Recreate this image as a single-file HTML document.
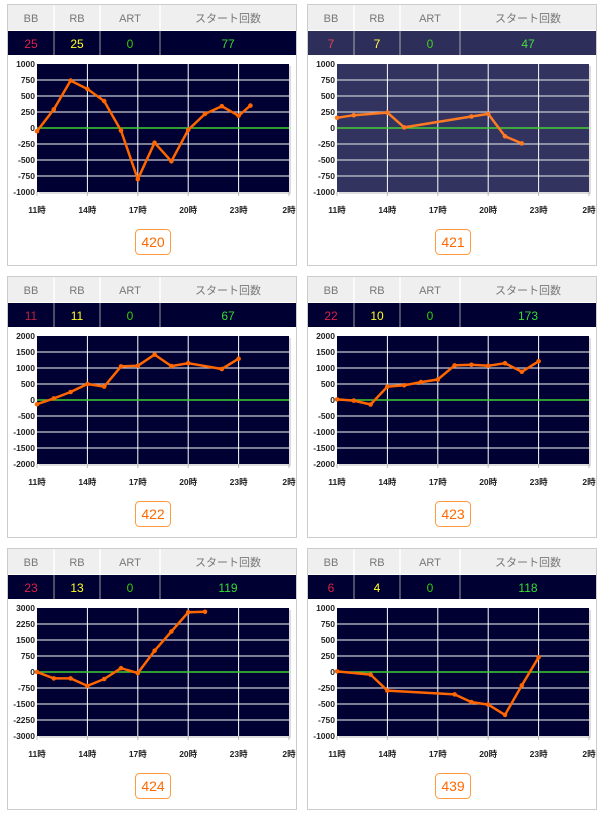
<!DOCTYPE html>
<html><head><meta charset="utf-8">
<style>
html,body{margin:0;padding:0;background:#fff;}
svg{display:block;font-family:"Liberation Sans","Noto Sans CJK JP",sans-serif;}
.h{font-size:11px;fill:#777;text-anchor:middle}
.v{font-size:12px;text-anchor:middle}
.yl{font-size:8.5px;fill:#222;text-anchor:end;font-weight:bold}
.xl{font-size:8.5px;fill:#222;text-anchor:middle;font-weight:bold}
.hg{stroke:#c8c8d0;stroke-width:1.2}
.vg{stroke:#fff;stroke-width:1}
.ln{fill:none;stroke:#ff6600;stroke-width:2.5;stroke-linejoin:round}
.bt{font-size:14px;fill:#ff6a00;text-anchor:middle}
</style></head><body>
<svg width="600" height="814" viewBox="0 0 600 814">
<defs>
<g id="frame">
<rect x="0.5" y="0.5" width="289" height="261" fill="#fff" stroke="#ccc"/>
<rect x="1" y="1" width="288" height="25" fill="#efefef"/>
<g stroke="#fff" stroke-width="1.5"><line x1="47" y1="1" x2="47" y2="26"/><line x1="93" y1="1" x2="93" y2="26"/><line x1="153" y1="1" x2="153" y2="26"/></g>
<text class="h" x="24" y="18">BB</text><text class="h" x="70" y="18">RB</text><text class="h" x="123" y="18">ART</text><text class="h" x="221" y="18">スタート回数</text>
<rect x="32" y="62" width="252" height="128" fill="#ddd"/>
<g class="xl"><text x="30" y="209">11時</text><text x="80.4" y="209">14時</text><text x="130.8" y="209">17時</text><text x="181.2" y="209">20時</text><text x="231.6" y="209">23時</text><text x="282" y="209">2時</text></g>
<g stroke="#bbb"><line x1="30" y1="188" x2="30" y2="192"/><line x1="80.4" y1="188" x2="80.4" y2="192"/><line x1="130.8" y1="188" x2="130.8" y2="192"/><line x1="181.2" y1="188" x2="181.2" y2="192"/><line x1="231.6" y1="188" x2="231.6" y2="192"/><line x1="282" y1="188" x2="282" y2="192"/></g>
<rect x="128.5" y="225.5" width="35" height="25" rx="4" fill="#fff" stroke="#ff9a40"/>
</g>
<g id="grid">
<g class="hg"><line x1="30" y1="76" x2="282" y2="76"/><line x1="30" y1="92" x2="282" y2="92"/><line x1="30" y1="108" x2="282" y2="108"/><line x1="30" y1="140" x2="282" y2="140"/><line x1="30" y1="156" x2="282" y2="156"/><line x1="30" y1="172" x2="282" y2="172"/></g>
<g class="vg"><line x1="80.4" y1="60" x2="80.4" y2="188"/><line x1="130.8" y1="60" x2="130.8" y2="188"/><line x1="181.2" y1="60" x2="181.2" y2="188"/><line x1="231.6" y1="60" x2="231.6" y2="188"/></g>
<line x1="30" y1="124" x2="282" y2="124" stroke="#44cc33" stroke-width="1.5"/>
</g>
<g id="y1000" class="yl"><text x="28" y="63">1000</text><text x="28" y="79">750</text><text x="28" y="95">500</text><text x="28" y="111">250</text><text x="28" y="127">0</text><text x="28" y="143">-250</text><text x="28" y="159">-500</text><text x="28" y="175">-750</text><text x="28" y="191">-1000</text></g>
<g id="y2000" class="yl"><text x="28" y="63">2000</text><text x="28" y="79">1500</text><text x="28" y="95">1000</text><text x="28" y="111">500</text><text x="28" y="127">0</text><text x="28" y="143">-500</text><text x="28" y="159">-1000</text><text x="28" y="175">-1500</text><text x="28" y="191">-2000</text></g>
<g id="y3000" class="yl"><text x="28" y="63">3000</text><text x="28" y="79">2250</text><text x="28" y="95">1500</text><text x="28" y="111">750</text><text x="28" y="127">0</text><text x="28" y="143">-750</text><text x="28" y="159">-1500</text><text x="28" y="175">-2250</text><text x="28" y="191">-3000</text></g>
</defs>

<g transform="translate(7,4)">
<use href="#frame"/>
<rect x="1" y="27" width="288" height="24" fill="#000033"/>
<g stroke="#999"><line x1="47" y1="27" x2="47" y2="51"/><line x1="93" y1="27" x2="93" y2="51"/><line x1="153" y1="27" x2="153" y2="51"/></g>
<text class="v" x="24" y="44" fill="#dd2244">25</text><text class="v" x="70" y="44" fill="#ffff22">25</text><text class="v" x="123" y="44" fill="#33cc00">0</text><text class="v" x="221" y="44" fill="#33dd33">77</text>
<rect x="30" y="60" width="252" height="128" fill="#000033"/>
<use href="#grid"/><use href="#y1000"/>
<polyline class="ln" points="30,127.2 46.8,105.4 63.6,76.6 80.4,85 97.2,97.1 114,126.6 130.8,175.2 147.6,138.7 164.4,157.3 181.2,125.9 198,109.9 214.8,102.2 231.6,111.8 243.4,101.6"/>
<g fill="#ff6600"><circle cx="30" cy="127.2" r="2.3"/><circle cx="46.8" cy="105.4" r="2.3"/><circle cx="63.6" cy="76.6" r="2.3"/><circle cx="80.4" cy="85" r="2.3"/><circle cx="97.2" cy="97.1" r="2.3"/><circle cx="114" cy="126.6" r="2.3"/><circle cx="130.8" cy="175.2" r="2.3"/><circle cx="147.6" cy="138.7" r="2.3"/><circle cx="164.4" cy="157.3" r="2.3"/><circle cx="181.2" cy="125.9" r="2.3"/><circle cx="198" cy="109.9" r="2.3"/><circle cx="214.8" cy="102.2" r="2.3"/><circle cx="231.6" cy="111.8" r="2.3"/><circle cx="243.4" cy="101.6" r="2.3"/></g>
<text class="bt" x="146" y="243">420</text>
</g>

<g transform="translate(307,4)">
<use href="#frame"/>
<rect x="1" y="27" width="288" height="24" fill="#2e2e5a"/>
<g stroke="#aaa"><line x1="47" y1="27" x2="47" y2="51"/><line x1="93" y1="27" x2="93" y2="51"/><line x1="153" y1="27" x2="153" y2="51"/></g>
<text class="v" x="24" y="44" fill="#dd4455">7</text><text class="v" x="70" y="44" fill="#ffff44">7</text><text class="v" x="123" y="44" fill="#44cc22">0</text><text class="v" x="221" y="44" fill="#44dd44">47</text>
<rect x="30" y="60" width="252" height="128" fill="#333360"/>
<use href="#grid"/><use href="#y1000"/>
<polyline class="ln" points="30,113.8 46.8,111.2 80.4,108.6 97.2,123.4 164.4,112.5 181.2,109.9 198,132.3 214.8,139.4" style="stroke:#ff7a22"/>
<g fill="#ff7a22"><circle cx="30" cy="113.8" r="2.3"/><circle cx="46.8" cy="111.2" r="2.3"/><circle cx="80.4" cy="108.6" r="2.3"/><circle cx="97.2" cy="123.4" r="2.3"/><circle cx="164.4" cy="112.5" r="2.3"/><circle cx="181.2" cy="109.9" r="2.3"/><circle cx="198" cy="132.3" r="2.3"/><circle cx="214.8" cy="139.4" r="2.3"/></g>
<text class="bt" x="146" y="243">421</text>
</g>

<g transform="translate(7,276)">
<use href="#frame"/>
<rect x="1" y="27" width="288" height="24" fill="#000033"/>
<g stroke="#999"><line x1="47" y1="27" x2="47" y2="51"/><line x1="93" y1="27" x2="93" y2="51"/><line x1="153" y1="27" x2="153" y2="51"/></g>
<text class="v" x="24" y="44" fill="#bb2244">11</text><text class="v" x="70" y="44" fill="#ffff22">11</text><text class="v" x="123" y="44" fill="#33cc00">0</text><text class="v" x="221" y="44" fill="#33dd33">67</text>
<rect x="30" y="60" width="252" height="128" fill="#000033"/>
<use href="#grid"/><use href="#y2000"/>
<polyline class="ln" points="30,128.2 46.8,122.4 63.6,116 80.4,108 97.2,110.6 114,90.4 130.8,89.8 147.6,78.6 164.4,90.1 181.2,87.2 214.8,93 231.6,82.7"/>
<g fill="#ff6600"><circle cx="30" cy="128.2" r="2.3"/><circle cx="46.8" cy="122.4" r="2.3"/><circle cx="63.6" cy="116" r="2.3"/><circle cx="80.4" cy="108" r="2.3"/><circle cx="97.2" cy="110.6" r="2.3"/><circle cx="114" cy="90.4" r="2.3"/><circle cx="130.8" cy="89.8" r="2.3"/><circle cx="147.6" cy="78.6" r="2.3"/><circle cx="164.4" cy="90.1" r="2.3"/><circle cx="181.2" cy="87.2" r="2.3"/><circle cx="214.8" cy="93" r="2.3"/><circle cx="231.6" cy="82.7" r="2.3"/></g>
<text class="bt" x="146" y="243">422</text>
</g>

<g transform="translate(307,276)">
<use href="#frame"/>
<rect x="1" y="27" width="288" height="24" fill="#000033"/>
<g stroke="#999"><line x1="47" y1="27" x2="47" y2="51"/><line x1="93" y1="27" x2="93" y2="51"/><line x1="153" y1="27" x2="153" y2="51"/></g>
<text class="v" x="24" y="44" fill="#dd2244">22</text><text class="v" x="70" y="44" fill="#ffff22">10</text><text class="v" x="123" y="44" fill="#33cc00">0</text><text class="v" x="221" y="44" fill="#33dd33">173</text>
<rect x="30" y="60" width="252" height="128" fill="#000033"/>
<use href="#grid"/><use href="#y2000"/>
<polyline class="ln" points="30,123.4 46.8,124.6 63.6,128.5 80.4,110.6 97.2,109.3 114,106.1 130.8,103.5 147.6,89.4 164.4,88.8 181.2,89.8 198,87.2 214.8,95.8 231.6,85.3"/>
<g fill="#ff6600"><circle cx="30" cy="123.4" r="2.3"/><circle cx="46.8" cy="124.6" r="2.3"/><circle cx="63.6" cy="128.5" r="2.3"/><circle cx="80.4" cy="110.6" r="2.3"/><circle cx="97.2" cy="109.3" r="2.3"/><circle cx="114" cy="106.1" r="2.3"/><circle cx="130.8" cy="103.5" r="2.3"/><circle cx="147.6" cy="89.4" r="2.3"/><circle cx="164.4" cy="88.8" r="2.3"/><circle cx="181.2" cy="89.8" r="2.3"/><circle cx="198" cy="87.2" r="2.3"/><circle cx="214.8" cy="95.8" r="2.3"/><circle cx="231.6" cy="85.3" r="2.3"/></g>
<text class="bt" x="146" y="243">423</text>
</g>

<g transform="translate(7,548)">
<use href="#frame"/>
<rect x="1" y="27" width="288" height="24" fill="#000033"/>
<g stroke="#999"><line x1="47" y1="27" x2="47" y2="51"/><line x1="93" y1="27" x2="93" y2="51"/><line x1="153" y1="27" x2="153" y2="51"/></g>
<text class="v" x="24" y="44" fill="#dd2244">23</text><text class="v" x="70" y="44" fill="#ffff22">13</text><text class="v" x="123" y="44" fill="#33cc00">0</text><text class="v" x="221" y="44" fill="#33dd33">119</text>
<rect x="30" y="60" width="252" height="128" fill="#000033"/>
<use href="#grid"/><use href="#y3000"/>
<polyline class="ln" points="30,124 46.8,130.4 63.6,130.4 80.4,137.9 97.2,131 114,120.2 130.8,125.1 147.6,102.7 164.4,83.5 181.2,64.3 198,63.8"/>
<g fill="#ff6600"><circle cx="30" cy="124" r="2.3"/><circle cx="46.8" cy="130.4" r="2.3"/><circle cx="63.6" cy="130.4" r="2.3"/><circle cx="80.4" cy="137.9" r="2.3"/><circle cx="97.2" cy="131" r="2.3"/><circle cx="114" cy="120.2" r="2.3"/><circle cx="130.8" cy="125.1" r="2.3"/><circle cx="147.6" cy="102.7" r="2.3"/><circle cx="164.4" cy="83.5" r="2.3"/><circle cx="181.2" cy="64.3" r="2.3"/><circle cx="198" cy="63.8" r="2.3"/></g>
<text class="bt" x="146" y="243">424</text>
</g>

<g transform="translate(307,548)">
<use href="#frame"/>
<rect x="1" y="27" width="288" height="24" fill="#000033"/>
<g stroke="#999"><line x1="47" y1="27" x2="47" y2="51"/><line x1="93" y1="27" x2="93" y2="51"/><line x1="153" y1="27" x2="153" y2="51"/></g>
<text class="v" x="24" y="44" fill="#dd2244">6</text><text class="v" x="70" y="44" fill="#ffff22">4</text><text class="v" x="123" y="44" fill="#33cc00">0</text><text class="v" x="221" y="44" fill="#33dd33">118</text>
<rect x="30" y="60" width="252" height="128" fill="#000033"/>
<use href="#grid"/><use href="#y1000"/>
<polyline class="ln" points="30,123.4 63.6,126.6 80.4,142.6 147.6,146.4 164.4,154.1 181.2,156.6 198,166.9 214.8,137.4 231.6,109.3"/>
<g fill="#ff6600"><circle cx="30" cy="123.4" r="2.3"/><circle cx="63.6" cy="126.6" r="2.3"/><circle cx="80.4" cy="142.6" r="2.3"/><circle cx="147.6" cy="146.4" r="2.3"/><circle cx="164.4" cy="154.1" r="2.3"/><circle cx="181.2" cy="156.6" r="2.3"/><circle cx="198" cy="166.9" r="2.3"/><circle cx="214.8" cy="137.4" r="2.3"/><circle cx="231.6" cy="109.3" r="2.3"/></g>
<text class="bt" x="146" y="243">439</text>
</g>
</svg>
</body></html>
